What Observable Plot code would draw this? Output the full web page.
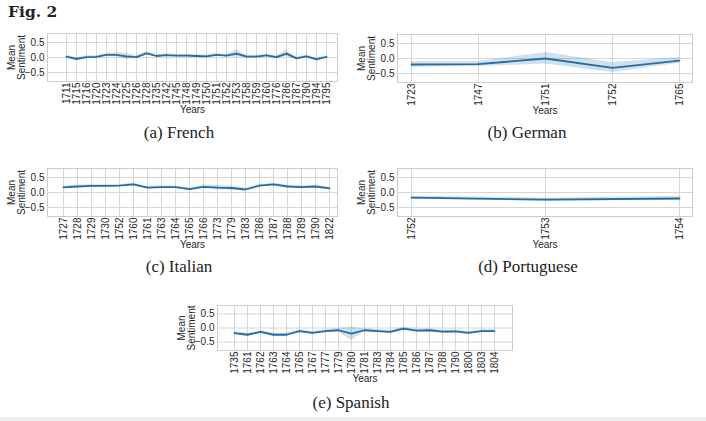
<!DOCTYPE html>
<html>
<head>
<meta charset="utf-8">
<script src="https://cdn.jsdelivr.net/npm/d3@7"></script>
<script src="https://cdn.jsdelivr.net/npm/@observablehq/plot@0.6"></script>
<style>
  html, body { margin: 0; padding: 0; background: #ffffff; }
  #page { position: relative; width: 706px; height: 421px; overflow: hidden; background: #ffffff; }
  .title { position: absolute; left: 8px; top: 3px; font-family: "DejaVu Serif", serif; font-weight: bold; font-size: 15.5px; line-height: 18px; color: #222; }
  .caption { position: absolute; font-family: "Liberation Serif", serif; font-size: 17px; line-height: 20px; color: #222; transform: translateX(-50%); white-space: nowrap; }
  .panel { position: absolute; }
  .strip { position: absolute; left: 0; top: 417px; width: 706px; height: 4px; background: #eeeeee; }
</style>
</head>
<body>
<div id="page">
  <div class="title">Fig. 2</div>
  <div class="strip"></div>
</div>
<script>
// ---- Data ----
const frenchYears = [1711,1715,1716,1720,1723,1724,1725,1726,1728,1735,1742,1745,1748,1749,1750,1751,1752,1753,1758,1759,1760,1776,1786,1787,1790,1794,1795];
const frenchMean  = [0.03,-0.05,0.01,0.02,0.09,0.09,0.04,0.01,0.14,0.05,0.08,0.06,0.06,0.05,0.04,0.09,0.06,0.13,0.03,0.03,0.07,0.01,0.13,-0.03,0.04,-0.06,0.02];
const frenchLow   = [-0.01,-0.09,-0.03,-0.02,0.05,0.02,-0.07,-0.03,0.09,0.01,0.04,0.02,0.02,0.01,0.0,0.05,0.02,0.02,-0.01,-0.01,0.03,-0.03,0.03,-0.07,0.0,-0.10,-0.02];
const frenchHigh  = [0.07,-0.01,0.05,0.06,0.13,0.16,0.13,0.05,0.19,0.09,0.12,0.10,0.10,0.09,0.08,0.13,0.10,0.26,0.07,0.07,0.11,0.05,0.24,0.01,0.08,-0.02,0.06];

const germanYears = [1723,1747,1751,1752,1765];
const germanMean  = [-0.20,-0.19,0.00,-0.31,-0.07];
const germanLow   = [-0.29,-0.27,-0.18,-0.47,-0.16];
const germanHigh  = [-0.11,-0.10,0.20,-0.13,0.03];

const italianYears = [1727,1728,1729,1730,1752,1760,1761,1763,1764,1765,1766,1773,1779,1783,1786,1787,1788,1789,1790,1822];
const italianMean  = [0.17,0.20,0.22,0.22,0.23,0.27,0.16,0.18,0.18,0.11,0.19,0.16,0.15,0.10,0.23,0.27,0.20,0.18,0.20,0.14];
const italianLow   = [0.12,0.16,0.18,0.18,0.19,0.23,0.12,0.14,0.14,0.07,0.13,0.09,0.08,0.06,0.19,0.23,0.16,0.14,0.16,0.10];
const italianHigh  = [0.22,0.24,0.26,0.26,0.27,0.31,0.20,0.22,0.22,0.15,0.25,0.23,0.22,0.14,0.27,0.31,0.24,0.22,0.24,0.18];

const portugueseYears = [1752,1753,1754];
const portugueseMean  = [-0.17,-0.24,-0.20];
const portugueseLow   = [-0.22,-0.29,-0.27];
const portugueseHigh  = [-0.12,-0.19,-0.13];

const spanishYears = [1735,1761,1762,1763,1764,1765,1767,1777,1779,1780,1781,1783,1784,1785,1786,1787,1788,1790,1800,1803,1804];
const spanishMean  = [-0.18,-0.24,-0.14,-0.24,-0.24,-0.11,-0.17,-0.11,-0.08,-0.20,-0.08,-0.11,-0.14,-0.02,-0.09,-0.08,-0.13,-0.12,-0.17,-0.11,-0.11];
const spanishLow   = [-0.24,-0.29,-0.19,-0.29,-0.29,-0.16,-0.22,-0.16,-0.14,-0.44,-0.13,-0.16,-0.19,-0.07,-0.14,-0.13,-0.18,-0.17,-0.22,-0.16,-0.16];
const spanishHigh  = [-0.12,-0.19,-0.09,-0.19,-0.19,-0.06,-0.12,-0.06,-0.02,0.04,-0.03,-0.06,-0.09,0.03,-0.04,-0.03,-0.08,-0.07,-0.12,-0.06,-0.06];

const yTicks = [-0.5, 0, 0.5];
const yDomain = [-0.8, 0.8];

// ---- Drawing ----
const page = document.getElementById("page");

function panel(years, mean, low, high, o) {
  const rows = years.map((yr, i) => ({year: String(yr), mean: mean[i], low: low[i], high: high[i]}));
  const chart = Plot.plot({
    width: o.width,
    height: o.mt + o.fh + o.mb,
    marginLeft: o.ml,
    marginRight: o.mr,
    marginTop: o.mt,
    marginBottom: o.mb,
    style: {fontFamily: "'Liberation Sans', Arial, sans-serif", fontSize: "10px", color: "#262626", background: "transparent"},
    x: {type: "point", domain: years.map(String), padding: 0, insetLeft: o.il, insetRight: o.ir},
    y: {domain: yDomain},
    marks: [
      Plot.gridX({stroke: "#d6d6d6", strokeOpacity: 1}),
      Plot.gridY(yTicks, {stroke: "#d6d6d6", strokeOpacity: 1}),
      Plot.frame({stroke: "#cccccc"}),
      Plot.areaY(rows, {x: "year", y1: "low", y2: "high", fill: "#1f77b4", fillOpacity: 0.22}),
      Plot.lineY(rows, {x: "year", y: "mean", stroke: "#2a6ca0", strokeWidth: 1.8}),
      Plot.axisX({tickRotate: -90, tickSize: 0, tickPadding: 1, label: null, fontSize: 10}),
      Plot.axisY({ticks: yTicks, tickSize: 0, tickPadding: 3, tickFormat: d3.format(".1f"), label: null, fontSize: 10}),
      Plot.text(["Mean\nSentiment"], {text: d => d, frameAnchor: "left", dx: -31, rotate: -90, lineHeight: 1, fontSize: 10, textAnchor: "middle"}),
      Plot.text(["Years"], {text: d => d, frameAnchor: "bottom", dy: 31, fontSize: 10})
    ]
  });
  const wrap = document.createElement("div");
  wrap.className = "panel";
  wrap.style.left = o.left + "px";
  wrap.style.top = o.top + "px";
  wrap.appendChild(chart);
  page.appendChild(wrap);

  const cap = document.createElement("div");
  cap.className = "caption";
  cap.textContent = o.caption;
  cap.style.left = o.cx + "px";
  cap.style.top = (o.cy - 10) + "px";
  page.appendChild(cap);
}

panel(frenchYears, frenchMean, frenchLow, frenchHigh,
  {left: 0, top: 27, width: 340, ml: 47, mr: 3, mt: 6, fh: 48, mb: 38, il: 15, ir: 7, caption: "(a) French", cx: 179, cy: 133});
panel(germanYears, germanMean, germanLow, germanHigh,
  {left: 350, top: 28, width: 356, ml: 47, mr: 14, mt: 6, fh: 48, mb: 38, il: 13, ir: 13, caption: "(b) German", cx: 527, cy: 133});
panel(italianYears, italianMean, italianLow, italianHigh,
  {left: 0, top: 162, width: 340, ml: 47, mr: 3, mt: 6, fh: 48, mb: 38, il: 15, ir: 7, caption: "(c) Italian", cx: 179, cy: 267});
panel(portugueseYears, portugueseMean, portugueseLow, portugueseHigh,
  {left: 350, top: 162, width: 356, ml: 47, mr: 14, mt: 6, fh: 48, mb: 38, il: 14, ir: 13, caption: "(d) Portuguese", cx: 528, cy: 267});
panel(spanishYears, spanishMean, spanishLow, spanishHigh,
  {left: 170, top: 299, width: 346, ml: 47, mr: 4, mt: 6, fh: 45, mb: 38, il: 13, ir: 14, caption: "(e) Spanish", cx: 351, cy: 403});
</script>
</body>
</html>
